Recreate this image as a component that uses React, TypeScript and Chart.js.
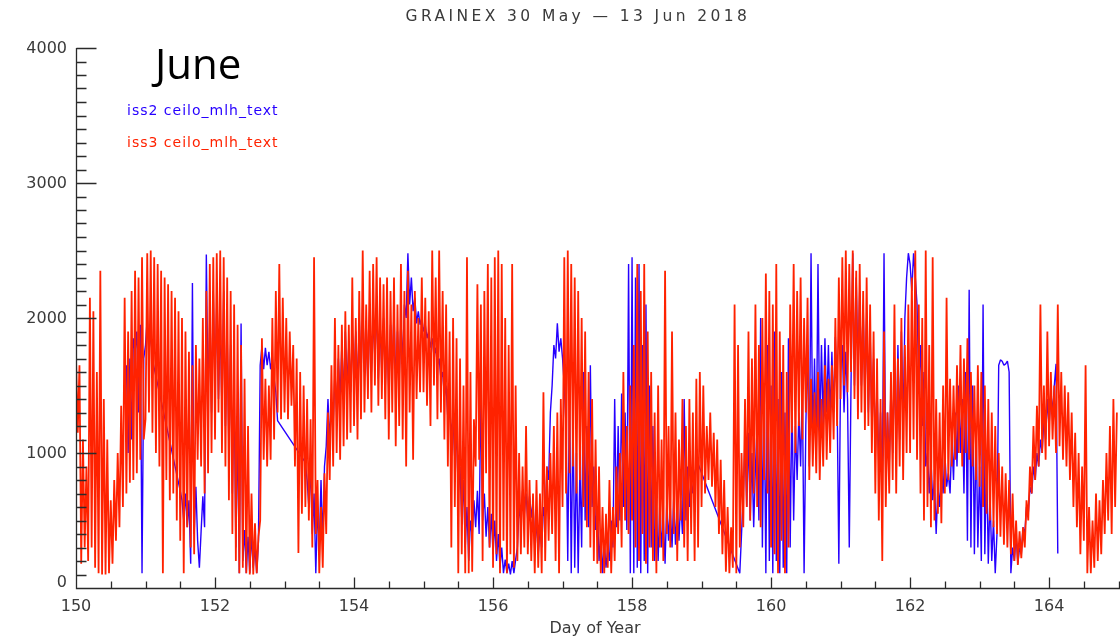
import React, { useEffect, useRef } from 'react';
import { Chart, registerables } from 'chart.js';

Chart.register(...registerables);

const N = null;

// Day-of-year of each daily block; each block holds 40 samples (0.025 day apart)
const DAYS = [150, 151, 152, 153, 154, 155, 156, 157, 158, 159, 160, 161, 162, 163, 164];
const SAMPLES_PER_DAY = 40;

// iss3 ceilo_mlh_text (red), metres
const red150 = [1700,1150,1650,180,1100,300,900,200,2150,300,2050,150,1600,110,2350,100,1400,100,1100,110,650,180,800,350,1000,450,1350,600,2150,700,1900,780,2200,800,2350,850,2300,950,2450,1100];
const red151 = [1250,2480,1300,2500,1150,2450,1000,2400,900,2350,110,2300,800,2250,650,2200,700,2150,500,2050,350,2000,110,1900,450,1750,300,1650,250,1800,950,1700,900,2000,700,2200,850,2400,1000,2450];
const red152 = [1100,2480,1300,2500,1000,2450,900,2300,650,2200,400,2100,200,1950,110,1800,150,1550,110,1200,100,700,100,480,110,380,500,1850,950,1550,900,1500,950,2000,1100,2200,1300,2400,1250,2150];
const red153 = [1300,2000,1250,1900,1350,1800,900,1700,260,1600,550,1500,600,1400,500,1250,300,2450,400,800,110,600,150,850,400,1300,800,1650,900,2000,1000,1800,950,1950,1050,2050,1100,1950,1150,2300];
const red154 = [1200,2000,1100,2200,1250,2500,1300,2100,1400,2350,1300,2400,1500,2450,1350,2300,1400,2250,1250,2300,1100,2200,1300,2300,1050,2100,1200,2400,1100,2200,900,2350,1300,2100,950,2200,1400,2000,1450,2300];
const red155 = [1450,2150,1350,2050,1200,2500,1500,2300,1250,2500,1300,2200,1100,2100,900,1900,300,2000,600,1850,110,1700,250,1500,110,2450,110,1600,120,1250,900,2250,950,2100,200,2200,850,2400,300,2300];
const red156 = [150,2450,250,2500,110,2400,350,2000,110,1800,250,2400,150,1500,200,1000,250,900,300,1200,250,800,200,700,110,800,150,700,110,1450,200,900,350,1000,400,1200,200,1300,110,1400];
const red157 = [600,2450,700,2500,850,2400,900,2300,700,2200,800,2000,600,1900,450,1600,300,1400,200,1100,180,900,110,600,110,550,150,800,110,600,200,900,400,1000,300,1600,500,1200,400,1500];
const red158 = [500,1800,300,2400,200,2200,400,2400,180,1900,300,1600,200,1300,110,1500,300,1100,200,2350,400,1200,300,1900,400,1300,200,1100,500,1400,300,1200,200,1400,400,1300,200,1550,300,1600];
const red159 = [600,1500,700,1200,800,1300,750,1150,600,1100,400,950,250,800,120,600,110,450,150,2100,110,1800,300,1000,450,1400,600,1900,500,1700,700,2100,600,1800,450,2000,800,2330,700,2200];
const red160 = [300,2100,250,2400,110,1900,350,1800,110,1600,300,2100,1150,2400,1000,2200,1200,2300,1100,2000,1300,2150,800,1550,900,1450,850,1600,800,1400,900,1650,950,1550,1000,1650,1100,2000,1200,2300];
const red161 = [1400,2450,1500,2500,1450,2400,1600,2500,1400,2350,1250,2400,1300,2200,1170,2300,1200,2100,1000,1900,700,1700,500,1400,200,1900,600,1300,700,1600,800,2100,700,1700,900,2000,800,1800,1000,2100];
const red162 = [1000,2300,1100,2500,950,2100,700,2000,500,2500,600,1800,450,2450,500,1400,550,1300,480,1500,700,2150,800,1550,900,1500,950,1650,1000,1800,900,1700,1000,1850,950,1600,900,1500,800,1650];
const red163 = [750,1600,600,1500,550,1400,500,1300,450,1200,400,1000,380,900,320,850,300,800,250,700,200,500,170,420,220,450,300,650,500,900,700,1200,800,1350,900,2100,1000,1500,950,1900];
const red164 = [1050,1600,1100,1500,1000,2100,1050,1600,950,1500,900,1450,800,1300,600,1150,450,1000,250,900,350,1650,110,600,110,500,150,700,200,650,250,800,400,1000,500,1200,400,1400,600,1300];

// iss2 ceilo_mlh_text (blue), metres; null = no retrieval
const blue150 = [N,N,N,N,N,N,N,N,N,N,N,N,N,N,N,N,N,N,N,N,N,N,N,N,N,N,N,N,N,1650,1000,1700,1100,1850,1750,1900,1300,1950,110,1700];
const blue151 = [1800,2000,1750,1900,1690,N,N,N,N,N,N,N,N,N,N,N,N,N,N,N,720,650,500,700,450,650,180,2260,400,750,350,150,420,680,450,2470,1400,2000,1300,2200];
const blue152 = [1500,2100,1400,2000,1300,2200,1200,1900,1000,1800,700,1500,300,1200,110,1960,200,430,110,380,110,400,150,300,110,350,1650,1790,1620,1780,1650,1750,1620,1700,1550,1450,1240,N,N,N];
const blue153 = [N,N,N,N,N,N,N,N,N,N,N,N,930,800,600,900,400,700,110,600,300,800,350,900,1050,1400,1100,1350,1200,1600,1300,1700,1400,1800,1400,1900,1500,1800,1450,1900];
const blue154 = [1500,1900,1450,2000,1550,2100,1600,1950,1500,2050,1600,2000,1700,2100,1550,1950,1600,2000,1500,1900,1450,1950,1600,2050,1500,1900,1550,2000,1650,2100,2000,2480,2100,2300,2050,2150,1960,2050,1950,2000];
const blue155 = [1900,1950,1850,1900,1780,1850,1720,1780,1650,1700,1550,1600,1420,1500,1250,1350,1150,1250,950,1150,700,900,500,800,300,600,200,500,380,650,450,720,400,1450,500,700,380,600,300,550];
const blue156 = [250,500,200,400,150,300,110,210,110,180,100,200,110,210,300,600,500,720,550,700,500,680,520,650,300,500,250,450,300,600,500,900,800,1300,1500,1800,1700,1960,1750,1850];
const blue157 = [1700,1500,1200,200,1500,110,1300,150,1000,110,900,300,1600,500,1200,450,1650,600,900,430,600,200,400,110,350,150,300,200,500,300,1400,450,1200,500,1440,600,1300,430,2400,110];
const blue158 = [2450,110,2300,150,2400,110,1800,200,2100,110,1500,300,1200,200,600,200,650,300,500,180,650,350,600,300,680,320,600,350,650,400,1400,500,900,600,800,700,850,900,920,N];
const blue159 = [N,N,N,N,N,N,N,N,N,N,N,N,N,N,N,N,N,N,N,N,N,N,110,400,700,1100,600,1150,500,1000,450,900,1200,500,2000,300,1500,110,1800,200];
const blue160 = [1500,110,1900,200,1400,110,1600,150,1300,110,1850,300,1400,500,1200,800,1300,900,1500,110,1200,1800,900,2480,1000,1700,950,2400,1100,1800,1200,1850,1300,1800,1250,1750,1300,1860,1400,180];
const blue161 = [1600,1800,1300,1750,1400,300,1500,2480,1500,2300,1600,2200,1500,2100,1400,2000,1300,1900,1200,1700,1000,1500,900,1300,700,2480,800,1300,900,1500,1000,1700,1000,1800,1100,1900,1200,2000,2300,2480];
const blue162 = [2400,2200,2480,2300,2100,1500,1800,1200,1600,900,1000,700,950,650,800,400,750,600,900,700,1000,750,850,700,1100,800,1300,900,1500,1000,1400,700,1600,350,2210,300,1500,250,1200,300];
const blue163 = [900,200,2100,250,1000,180,700,200,500,110,400,1650,1690,1680,1650,1660,1680,1600,110,300,200,400,180,300,250,450,400,600,550,750,700,900,800,1000,900,1100,1000,1250,1100,1400];
const blue164 = [1200,1450,1300,1500,1660,255,N,N,N,N,N,N,N,N,N,N,N,N,N,N,N,N,N,N,N,N,N,N,N,N,N,N,N,N,N,N,N,N,N,N];

const RED_DAYS = [red150, red151, red152, red153, red154, red155, red156, red157, red158, red159, red160, red161, red162, red163, red164];
const BLUE_DAYS = [blue150, blue151, blue152, blue153, blue154, blue155, blue156, blue157, blue158, blue159, blue160, blue161, blue162, blue163, blue164];

const X_MAJOR_TICKS = [150, 152, 154, 156, 158, 160, 162, 164];
const X_TICK_LABELS = ['150', '152', '154', '156', '158', '160', '162', '164'];
const Y_MAJOR_TICKS = [0, 1000, 2000, 3000, 4000];
const Y_TICK_LABELS = ['0', '1000', '2000', '3000', '4000'];

const TITLE = 'GRAINEX 30 May — 13 Jun 2018';
const X_TITLE = 'Day of Year';
const ANNOTATION = 'June';
const SERIES_NAMES = ['iss2 ceilo_mlh_text', 'iss3 ceilo_mlh_text'];

const BLUE = 'rgb(38,0,255)';
const RED = 'rgb(255,34,0)';
const AXIS = '#2a2a2a';
const LABEL = '#3a3a3a';

function toPoints(days: number[], blocks: (number | null)[][]) {
  const pts: { x: number; y: number | null }[] = [];
  blocks.forEach((arr, k) => {
    arr.forEach((v, i) => {
      pts.push({ x: days[k] + i / SAMPLES_PER_DAY, y: v });
    });
  });
  return pts;
}

const idlAxes = {
  id: 'idlAxes',
  afterDraw(chart: any) {
    const { ctx, chartArea: a, scales } = chart;
    const x = scales.x;
    const y = scales.y;
    ctx.save();
    ctx.strokeStyle = AXIS;
    ctx.lineWidth = 1.3;
    ctx.beginPath();
    const ax = Math.round(a.left) + 0.5;
    const ay = Math.round(a.bottom) + 0.5;
    ctx.moveTo(ax, Math.round(a.top));
    ctx.lineTo(ax, ay);
    ctx.lineTo(a.right, ay);
    for (let v = 0; v <= 4000; v += 100) {
      const py = Math.round(y.getPixelForValue(v)) + 0.5;
      const len = v % 1000 === 0 ? 20 : 10;
      ctx.moveTo(ax, py);
      ctx.lineTo(ax + len, py);
    }
    for (let k = 0; k <= 30; k++) {
      const v = 150 + k * 0.5;
      const px = Math.round(x.getPixelForValue(v)) + 0.5;
      if (px > a.right + 1) break;
      const len = k % 4 === 0 ? 11 : 7;
      ctx.moveTo(px, ay);
      ctx.lineTo(px, ay - len);
    }
    ctx.stroke();

    ctx.fillStyle = LABEL;
    ctx.font = '16px "DejaVu Sans"';
    ctx.textBaseline = 'middle';
    ctx.textAlign = 'right';
    Y_MAJOR_TICKS.forEach((v, i) => {
      const off = v === 0 ? -5 : 1;
      ctx.fillText(Y_TICK_LABELS[i], 67, y.getPixelForValue(v) + off);
    });
    ctx.textAlign = 'center';
    X_MAJOR_TICKS.forEach((v, i) => {
      ctx.fillText(X_TICK_LABELS[i], x.getPixelForValue(v), 606.5);
    });
    ctx.fillText(X_TITLE, 595, 629);

    (ctx as any).letterSpacing = '3.4px';
    ctx.font = '15.5px "DejaVu Sans"';
    ctx.fillText(TITLE, 578, 16.5);

    (ctx as any).letterSpacing = '1px';
    ctx.font = '14px "DejaVu Sans"';
    ctx.textAlign = 'left';
    ctx.textBaseline = 'alphabetic';
    ctx.fillStyle = BLUE;
    ctx.fillText(SERIES_NAMES[0], 127, 115);
    ctx.fillStyle = RED;
    ctx.fillText(SERIES_NAMES[1], 127, 147);

    (ctx as any).letterSpacing = '0px';
    ctx.fillStyle = '#000';
    ctx.font = '42px "Open Sans"';
    ctx.fillText(ANNOTATION, 155, 79);
    ctx.restore();
  },
};

export default function App() {
  const ref = useRef<HTMLCanvasElement>(null);
  useEffect(() => {
    document.body.style.margin = '0';
    const chart = new Chart(ref.current as HTMLCanvasElement, {
      type: 'line',
      data: {
        datasets: [
          {
            label: SERIES_NAMES[0],
            data: toPoints(DAYS, BLUE_DAYS) as any,
            borderColor: BLUE,
            borderWidth: 1.4,
            pointRadius: 0,
            spanGaps: true,
            borderJoinStyle: 'bevel',
            order: 1,
          },
          {
            label: SERIES_NAMES[1],
            data: toPoints(DAYS, RED_DAYS) as any,
            borderColor: RED,
            borderWidth: 1.8,
            pointRadius: 0,
            spanGaps: true,
            borderJoinStyle: 'bevel',
            order: 0,
          },
        ],
      },
      options: {
        responsive: false,
        animation: false,
        events: [],
        layout: { padding: { left: 76, top: 48, right: 0, bottom: 51 } },
        scales: {
          x: { type: 'linear', min: 150, max: 165.02, display: false },
          y: { type: 'linear', min: 0, max: 4000, display: false },
        },
        elements: { line: { tension: 0 } },
        plugins: { legend: { display: false }, tooltip: { enabled: false } },
      },
      plugins: [idlAxes],
    });
    return () => chart.destroy();
  }, []);
  return (
    <div style={{ position: 'fixed', left: 0, top: 0, width: 1120, height: 639, background: '#fff' }}>
      <canvas ref={ref} width={1120} height={639} style={{ display: 'block' }} />
    </div>
  );
}
